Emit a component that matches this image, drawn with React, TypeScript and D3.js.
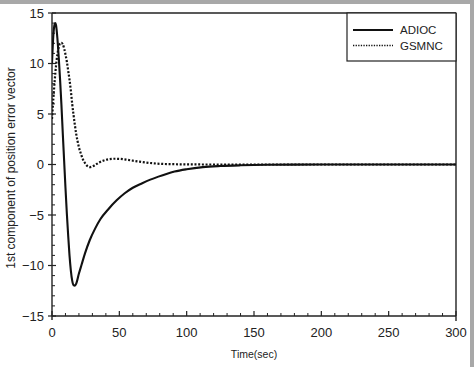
import React, { useRef, useEffect } from 'react';
import * as d3 from 'd3';

// time samples (sec) and values
const adiocT = [0, 1, 2, 2.5, 3, 4, 5, 6, 7, 8, 9, 10, 11, 12, 13, 14, 15, 16, 17, 18, 20, 22, 24.5, 28, 32, 36, 42, 48, 54, 60, 67, 73, 79, 85, 91, 100, 112, 125, 140, 160, 180, 200, 250, 300];
const adiocV = [10, 12.8, 13.9, 14.0, 13.8, 12.5, 10.6, 8.4, 5.9, 3.1, 0.4, -2.3, -4.8, -7.0, -9.0, -10.5, -11.5, -11.95, -12.0, -11.8, -10.8, -9.9, -8.8, -7.5, -6.35, -5.4, -4.4, -3.55, -2.85, -2.3, -1.85, -1.5, -1.2, -0.93, -0.7, -0.47, -0.26, -0.15, -0.08, -0.03, -0.01, 0, 0, 0];

const gsmncT = [0, 1, 2, 3, 4, 5, 6, 7, 8, 9, 10, 11, 12, 13, 14, 15, 16, 17, 18, 19, 20, 21, 22, 23, 24, 25, 26, 27, 28, 30, 32, 35, 38, 42, 46, 50, 55, 60, 65, 70, 75, 80, 90, 100, 120, 200, 300];
const gsmncV = [4.5, 6.5, 8.3, 9.8, 10.9, 11.6, 12.0, 12.05, 11.9, 11.5, 10.9, 10.2, 9.3, 8.4, 7.3, 6.0, 4.9, 3.9, 3.0, 2.3, 1.7, 1.25, 0.85, 0.5, 0.25, 0.05, -0.12, -0.22, -0.26, -0.2, -0.05, 0.2, 0.38, 0.52, 0.57, 0.56, 0.48, 0.38, 0.28, 0.19, 0.12, 0.07, 0.03, 0.01, 0, 0, 0];

const xTicks = [0, 50, 100, 150, 200, 250, 300];
const yTicks = [-15, -10, -5, 0, 5, 10, 15];
const seriesNames = ['ADIOC', 'GSMNC'];

const W = 474;
const H = 367;
const FONT = 'Liberation Sans, Arial, Helvetica, sans-serif';

export default function App() {
    const svgRef = useRef<SVGSVGElement>(null);

    useEffect(() => {
        const root = d3.select(svgRef.current);
        root.selectAll('*').remove();

        const left = 52, right = 456, top = 13, bottom = 316;
        const x = d3.scaleLinear().domain([0, 300]).range([left, right]);
        const y = d3.scaleLinear().domain([-15, 15]).range([bottom, top]);

        root.append('rect').attr('width', W).attr('height', H).attr('fill', '#fff');
        // grey scan border on top and right
        root.append('rect').attr('x', 0).attr('y', 0).attr('width', W).attr('height', 4).attr('fill', '#a8a8a8');
        root.append('rect').attr('x', 470).attr('y', 0).attr('width', 4).attr('height', H).attr('fill', '#a8a8a8');

        const ink = '#222';

        // minor ticks
        const xMinor = d3.range(0, 301, 10).filter(v => v % 50 !== 0);
        root.append('g').selectAll('line').data(xMinor).join('line')
            .attr('x1', d => x(d)).attr('x2', d => x(d))
            .attr('y1', bottom).attr('y2', bottom - 3)
            .attr('stroke', ink).attr('stroke-width', 1);
        const yMinor = d3.range(-15, 16, 1).filter(v => v % 5 !== 0);
        root.append('g').selectAll('line').data(yMinor).join('line')
            .attr('x1', left).attr('x2', left + 3)
            .attr('y1', d => y(d)).attr('y2', d => y(d))
            .attr('stroke', ink).attr('stroke-width', 1);

        // major ticks
        root.append('g').selectAll('line').data(xTicks).join('line')
            .attr('x1', d => x(d)).attr('x2', d => x(d))
            .attr('y1', bottom).attr('y2', bottom - 5)
            .attr('stroke', ink).attr('stroke-width', 1.2);
        root.append('g').selectAll('line').data(yTicks).join('line')
            .attr('x1', left - 4).attr('x2', left + 4)
            .attr('y1', d => y(d)).attr('y2', d => y(d))
            .attr('stroke', ink).attr('stroke-width', 1.2);

        // frame
        root.append('line').attr('x1', left).attr('x2', left).attr('y1', top).attr('y2', bottom + 4)
            .attr('stroke', ink).attr('stroke-width', 1.4);
        root.append('line').attr('x1', right).attr('x2', right).attr('y1', top).attr('y2', bottom + 5)
            .attr('stroke', ink).attr('stroke-width', 1.4);
        root.append('line').attr('x1', left).attr('x2', right).attr('y1', top).attr('y2', top)
            .attr('stroke', ink).attr('stroke-width', 1.4);
        root.append('line').attr('x1', left).attr('x2', right).attr('y1', bottom).attr('y2', bottom)
            .attr('stroke', ink).attr('stroke-width', 1.4);

        // tick labels
        root.append('g').selectAll('text').data(xTicks).join('text')
            .attr('x', d => x(d)).attr('y', bottom + 21)
            .attr('text-anchor', 'middle')
            .attr('font-family', FONT).attr('font-size', 13).attr('fill', '#222')
            .text(d => String(d));
        root.append('g').selectAll('text').data(yTicks).join('text')
            .attr('x', left - 8).attr('y', d => y(d) + 4.5)
            .attr('text-anchor', 'end')
            .attr('font-family', FONT).attr('font-size', 13).attr('fill', '#222')
            .text(d => (d < 0 ? '\u2212' + Math.abs(d) : String(d)));

        // axis titles
        root.append('text')
            .attr('x', (left + right) / 2).attr('y', 358)
            .attr('text-anchor', 'middle')
            .attr('font-family', FONT).attr('font-size', 10.5).attr('fill', '#222')
            .text('Time(sec)');
        root.append('text')
            .attr('transform', `translate(15,168) rotate(-90)`)
            .attr('text-anchor', 'middle')
            .attr('font-family', FONT).attr('font-size', 12).attr('fill', '#222')
            .text('1st component of position error vector');

        // curves
        const line = d3.line<[number, number]>()
            .x(d => x(d[0]))
            .y(d => y(d[1]))
            .curve(d3.curveMonotoneX);

        const clip = root.append('defs').append('clipPath').attr('id', 'plot-clip');
        clip.append('rect').attr('x', left).attr('y', top).attr('width', right - left).attr('height', bottom - top);

        const plot = root.append('g').attr('clip-path', 'url(#plot-clip)');
        plot.append('path')
            .datum(gsmncT.map((t, i) => [t, gsmncV[i]] as [number, number]))
            .attr('fill', 'none').attr('stroke', '#111').attr('stroke-width', 2.2)
            .attr('stroke-dasharray', '2,1.7')
            .attr('d', line);
        plot.append('path')
            .datum(adiocT.map((t, i) => [t, adiocV[i]] as [number, number]))
            .attr('fill', 'none').attr('stroke', '#111').attr('stroke-width', 2.1)
            .attr('stroke-linejoin', 'round')
            .attr('d', line);

        // legend
        const lg = root.append('g');
        lg.append('rect')
            .attr('x', 347).attr('y', top).attr('width', right - 347).attr('height', 48)
            .attr('fill', '#fff').attr('stroke', ink).attr('stroke-width', 1.2);
        seriesNames.forEach((name, i) => {
            const ly = 30 + i * 15.5;
            lg.append('line')
                .attr('x1', 353).attr('x2', 393).attr('y1', ly).attr('y2', ly)
                .attr('stroke', '#111').attr('stroke-width', i === 0 ? 2 : 1.6)
                .attr('stroke-dasharray', i === 0 ? null : '1.3,1.3');
            lg.append('text')
                .attr('x', 400).attr('y', ly + 4)
                .attr('font-family', FONT).attr('font-size', 11.5).attr('fill', '#222')
                .text(name);
        });
    }, []);

    return (
        <svg
            ref={svgRef}
            width={W}
            height={H}
            style={{ position: 'fixed', left: 0, top: 0, display: 'block' }}
        />
    );
}
